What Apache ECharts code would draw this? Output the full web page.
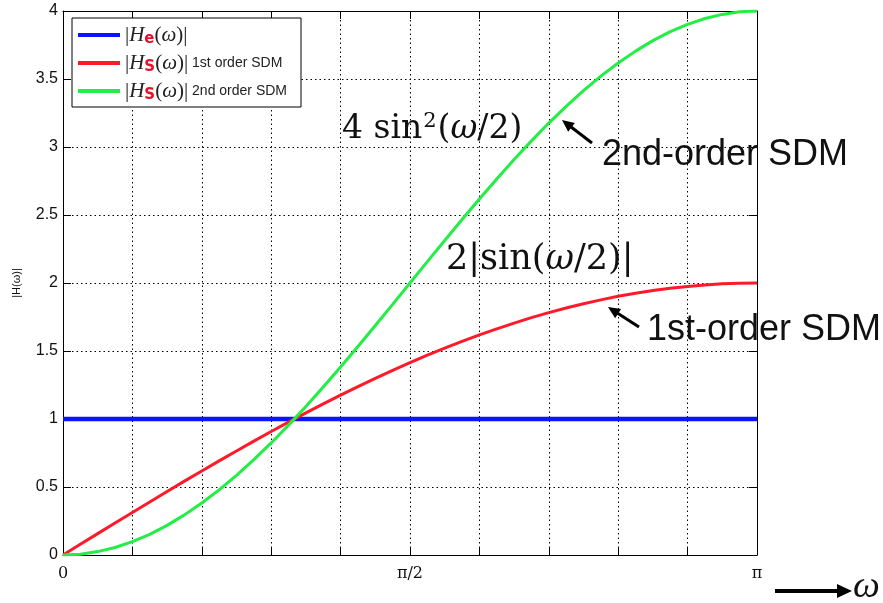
<!DOCTYPE html>
<html>
<head>
<meta charset="utf-8">
<script src="https://cdn.jsdelivr.net/npm/echarts@6/dist/echarts.min.js"></script>
<style>
html,body{margin:0;padding:0;background:#fff;}
#chart{width:883px;height:603px;}
</style>
</head>
<body>
<div id="chart"></div>
<script>
// omega in units of pi, read at every quarter grid step
var omega = [0, 0.025, 0.05, 0.075, 0.1, 0.125, 0.15, 0.175, 0.2, 0.225,
             0.25, 0.275, 0.3, 0.325, 0.35, 0.375, 0.4, 0.425, 0.45, 0.475,
             0.5, 0.525, 0.55, 0.575, 0.6, 0.625, 0.65, 0.675, 0.7, 0.725,
             0.75, 0.775, 0.8, 0.825, 0.85, 0.875, 0.9, 0.925, 0.95, 0.975, 1];
// |He(w)|
var heValues = [1, 1, 1, 1, 1, 1, 1, 1, 1, 1, 1, 1, 1, 1, 1, 1, 1, 1, 1, 1, 1,
                1, 1, 1, 1, 1, 1, 1, 1, 1, 1, 1, 1, 1, 1, 1, 1, 1, 1, 1, 1];
// |Hs(w)| 1st order SDM
var hs1Values = [0, 0.079, 0.157, 0.235, 0.313, 0.390, 0.467, 0.543, 0.618, 0.692,
                 0.765, 0.837, 0.908, 0.977, 1.045, 1.111, 1.176, 1.238, 1.299, 1.358,
                 1.414, 1.469, 1.521, 1.571, 1.618, 1.663, 1.705, 1.745, 1.782, 1.816,
                 1.848, 1.876, 1.902, 1.925, 1.945, 1.962, 1.975, 1.986, 1.994, 1.998, 2];
// |Hs(w)| 2nd order SDM
var hs2Values = [0, 0.006, 0.025, 0.055, 0.098, 0.152, 0.218, 0.295, 0.382, 0.479,
                 0.586, 0.701, 0.824, 0.955, 1.092, 1.235, 1.382, 1.533, 1.687, 1.843,
                 2.000, 2.157, 2.313, 2.467, 2.618, 2.765, 2.908, 3.045, 3.176, 3.299,
                 3.414, 3.521, 3.618, 3.705, 3.782, 3.848, 3.902, 3.945, 3.975, 3.994, 4];
var seriesNames = ['He', 'Hs1', 'Hs2'];
var legendExtra = {He: '', Hs1: ' 1st order SDM', Hs2: ' 2nd order SDM'};
var legendSub = {He: 'e', Hs1: 'S', Hs2: 'S'};
var xTickLabels = {0: '0', 5: 'π/2', 10: 'π'};

function pairs(vals) {
    var out = [];
    for (var i = 0; i < omega.length; i++) {
        out.push([omega[i], vals[i]]);
    }
    return out;
}

// 箭头 (tail -> head)
function arrow(x1, y1, x2, y2, w, hl, hw) {
    var dx = x2 - x1, dy = y2 - y1;
    var len = Math.sqrt(dx * dx + dy * dy);
    var ux = dx / len, uy = dy / len;
    var bx = x2 - hl * ux, by = y2 - hl * uy;
    var nx = -uy, ny = ux;
    return [
        {type: 'line', z: 100, shape: {x1: x1, y1: y1, x2: bx + ux, y2: by + uy},
         style: {stroke: '#000', lineWidth: w}},
        {type: 'polygon', z: 100, shape: {points: [[x2, y2], [bx + nx * hw / 2, by + ny * hw / 2], [bx - nx * hw / 2, by - ny * hw / 2]]},
         style: {fill: '#000'}}
    ];
}

var myChart = echarts.init(document.getElementById('chart'));

var dotted = {color: '#000', width: 1, type: [1.5, 3]};
var tickStyle = {show: true, inside: true, length: 8, lineStyle: {color: '#000', width: 1}};
var mathFont = 'DejaVu Serif';

var graphics = [
    {type: 'text', left: 342, top: 111, z: 100,
     style: {text: '4 sin{sup|2}({w|ω}/2)', fontFamily: mathFont, fontSize: 33, fill: '#111',
             rich: {sup: {fontSize: 21, fontFamily: mathFont, padding: [0, 1, 16, 1]},
                    w: {fontStyle: 'italic', fontSize: 33, fontFamily: mathFont}}}},
    {type: 'text', left: 446, top: 242, z: 100,
     style: {text: '2|sin({w|ω}/2)|', fontFamily: mathFont, fontSize: 35, fill: '#111',
             rich: {w: {fontStyle: 'italic', fontSize: 35, fontFamily: mathFont}}}},
    {type: 'text', left: 602, top: 137, z: 100,
     style: {text: '2nd-order SDM', fontFamily: 'Liberation Sans', fontSize: 36, fill: '#111'}},
    {type: 'text', left: 647, top: 312, z: 100,
     style: {text: '1st-order SDM', fontFamily: 'Liberation Sans', fontSize: 36, fill: '#111'}},
    {type: 'text', left: 853, top: 568, z: 100,
     style: {text: 'ω', fontFamily: 'Liberation Serif', fontStyle: 'italic', fontSize: 38, fill: '#111'}}
];
graphics = graphics.concat(arrow(592, 143, 562, 120, 3, 12, 11));
graphics = graphics.concat(arrow(639, 327, 608, 307, 3, 12, 11));
graphics = graphics.concat(arrow(775, 591, 852, 591, 4, 15, 14));

var option = {
    animation: false,
    backgroundColor: '#fff',
    grid: {left: 63, right: 126, top: 11, bottom: 48},
    legend: {
        data: seriesNames,
        orient: 'vertical',
        left: 72, top: 18,
        padding: [5, 14, 4, 6],
        itemGap: 4,
        itemWidth: 42, itemHeight: 4,
        icon: 'rect',
        backgroundColor: '#fff',
        borderColor: '#000', borderWidth: 1,
        borderRadius: 0,
        formatter: function (name) {
            return '{bar||}{h|H}{sub|' + legendSub[name] + '}{bar|(}{w|ω}{bar|)|}{sans|' + legendExtra[name] + '}';
        },
        textStyle: {
            rich: {
                bar: {fontFamily: 'Liberation Serif', fontSize: 21, color: '#222', lineHeight: 25},
                h: {fontFamily: 'Liberation Serif', fontStyle: 'italic', fontSize: 21, color: '#222', lineHeight: 25},
                w: {fontFamily: 'Liberation Serif', fontStyle: 'italic', fontSize: 21, color: '#222', lineHeight: 25},
                sub: {fontFamily: 'DejaVu Sans', fontWeight: 'bold', fontSize: 15, color: '#e8102a', padding: [9, 0, 0, 0], lineHeight: 25},
                sans: {fontFamily: 'Liberation Sans', fontSize: 14, color: '#222', lineHeight: 25}
            }
        }
    },
    xAxis: [{
        type: 'value', position: 'bottom',
        min: 0, max: 1, interval: 0.1,
        axisLine: {show: true, onZero: false, lineStyle: {color: '#000', width: 1}},
        axisTick: tickStyle,
        splitLine: {show: true, lineStyle: dotted},
        axisLabel: {
            margin: 11,
            fontFamily: 'DejaVu Serif', fontSize: 16, color: '#111',
            formatter: function (v) {
                var k = Math.round(v * 10);
                return xTickLabels[k] !== undefined ? xTickLabels[k] : '';
            }
        }
    }, {
        type: 'value', position: 'top',
        min: 0, max: 1, interval: 0.1,
        axisLine: {show: true, onZero: false, lineStyle: {color: '#000', width: 1}},
        axisTick: tickStyle,
        splitLine: {show: false},
        axisLabel: {show: false}
    }],
    yAxis: [{
        type: 'value', position: 'left',
        min: 0, max: 4, interval: 0.5,
        name: '|H(ω)|',
        nameLocation: 'middle',
        nameGap: 41,
        nameTextStyle: {fontFamily: 'Liberation Sans', fontSize: 11, color: '#111'},
        axisLine: {show: true, onZero: false, lineStyle: {color: '#000', width: 1}},
        axisTick: tickStyle,
        splitLine: {show: true, lineStyle: dotted},
        axisLabel: {margin: 5, fontFamily: 'Liberation Sans', fontSize: 16, color: '#111'}
    }, {
        type: 'value', position: 'right',
        min: 0, max: 4, interval: 0.5,
        axisLine: {show: true, onZero: false, lineStyle: {color: '#000', width: 1}},
        axisTick: tickStyle,
        splitLine: {show: false},
        axisLabel: {show: false}
    }],
    series: [{
        name: 'He', type: 'line', data: pairs(heValues),
        showSymbol: false, symbol: 'none',
        color: '#0a14ff',
        lineStyle: {width: 4.5, color: '#0a14ff'}
    }, {
        name: 'Hs1', type: 'line', data: pairs(hs1Values),
        showSymbol: false, symbol: 'none',
        color: '#ff1a2a',
        lineStyle: {width: 3, color: '#ff1a2a'}
    }, {
        name: 'Hs2', type: 'line', data: pairs(hs2Values),
        showSymbol: false, symbol: 'none',
        color: '#22ee44',
        lineStyle: {width: 3, color: '#22ee44'}
    }],
    graphic: graphics
};

myChart.setOption(option);
</script>
</body>
</html>
